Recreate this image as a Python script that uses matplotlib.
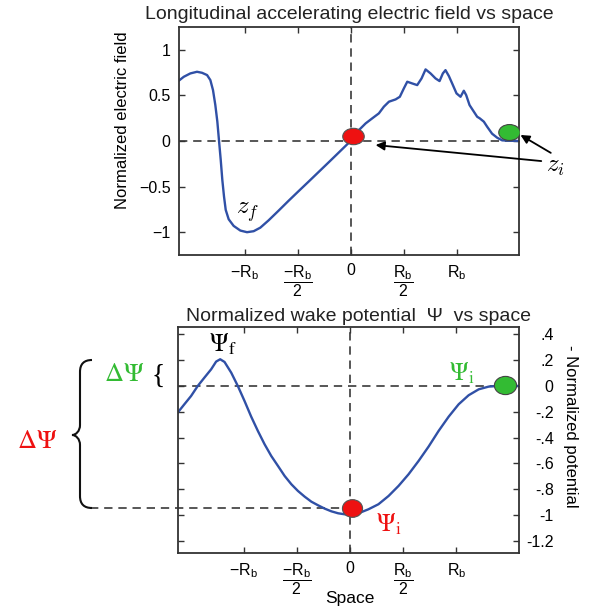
import matplotlib
matplotlib.use('Agg')
import matplotlib.pyplot as plt
from matplotlib.path import Path
from matplotlib.patches import PathPatch
import numpy as np

plt.rcParams['font.family'] = ['Liberation Sans', 'DejaVu Sans']
plt.rcParams['mathtext.fontset'] = 'custom'
plt.rcParams['mathtext.rm'] = 'Liberation Sans'
plt.rcParams['mathtext.it'] = 'Liberation Sans:italic'

# longitudinal electric field (x in units of R_b)
field_x = [-1.623, -1.575, -1.513, -1.45, -1.403, -1.355, -1.324, -1.299, -1.277,
           -1.258, -1.242, -1.226, -1.211, -1.195, -1.179, -1.151, -1.104, -1.041,
           -0.978, -0.915, -0.852, -0.774, -0.679, -0.585, -0.491, -0.396, -0.302,
           -0.208, -0.113, 0.0, 0.079, 0.142, 0.204, 0.267, 0.314, 0.362, 0.425,
           0.465, 0.503, 0.535, 0.582, 0.629, 0.67, 0.708, 0.755, 0.802, 0.84,
           0.871, 0.896, 0.928, 0.959, 1.0, 1.038, 1.069, 1.091, 1.123, 1.164,
           1.195, 1.22, 1.258, 1.289, 1.336, 1.384, 1.431, 1.588]
field_y = [0.66, 0.704, 0.741, 0.759, 0.748, 0.723, 0.668, 0.558, 0.394,
           0.212, 0.0, -0.208, -0.427, -0.609, -0.755, -0.858, -0.931, -0.982,
           -1.0, -0.989, -0.95, -0.87, -0.763, -0.655, -0.55, -0.445, -0.34,
           -0.235, -0.128, 0.0, 0.12, 0.193, 0.248, 0.303, 0.376, 0.431, 0.456,
           0.485, 0.577, 0.65, 0.631, 0.613, 0.686, 0.785, 0.741, 0.686, 0.657,
           0.741, 0.777, 0.712, 0.631, 0.522, 0.485, 0.551, 0.504, 0.394, 0.321,
           0.266, 0.248, 0.212, 0.157, 0.08, 0.036, 0.007, 0.0]

# normalized wake potential
psi_x = [-1.623, -1.56, -1.497, -1.434, -1.371, -1.308, -1.261, -1.223, -1.182,
         -1.119, -1.057, -0.994, -0.931, -0.868, -0.805, -0.742, -0.679, -0.616,
         -0.553, -0.491, -0.428, -0.365, -0.302, -0.239, -0.176, -0.113, -0.05,
         0.0, 0.079, 0.173, 0.267, 0.362, 0.456, 0.55, 0.645, 0.739, 0.833,
         0.928, 1.022, 1.116, 1.211, 1.305, 1.40, 1.588]
psi_y = [-0.207, -0.142, -0.078, 0.0, 0.065, 0.129, 0.189, 0.207, 0.186,
         0.103, 0.0, -0.116, -0.238, -0.349, -0.452, -0.543, -0.62, -0.698,
         -0.762, -0.814, -0.858, -0.897, -0.925, -0.951, -0.972, -0.987, -0.995,
         -1.0, -0.987, -0.956, -0.917, -0.853, -0.775, -0.685, -0.581, -0.47, -0.349,
         -0.238, -0.142, -0.072, -0.026, -0.005, 0.0, 0.0]

# marked points: (x, y)
field_red = (0.02, 0.055)
field_green = (1.494, 0.10)
psi_red = (0.02, -0.945)
psi_green = (1.462, 0.005)

xticks = [-1, -0.5, 0, 0.5, 1]
xticklabels = [r'$\mathrm{-R_b}$', r'$\dfrac{\mathrm{-R_b}}{2}$', '0',
               r'$\dfrac{\mathrm{R_b}}{2}$', r'$\mathrm{R_b}$']
field_yticks = [-1, -0.5, 0, 0.5, 1]
field_yticklabels = ['\u22121', '\u22120.5', '0', '0.5', '1']
psi_yticks = [0.4, 0.2, 0, -0.2, -0.4, -0.6, -0.8, -1, -1.2]
psi_yticklabels = ['.4', '.2', '0', '-.2', '-.4', '-.6', '-.8', '-1', '-1.2']

blue = '#3050a6'
dash_col = '#3a3a3a'
dash = (0, (5, 3.5))


def ellipse_marker(ratio):
    c = Path.unit_circle()
    return Path(c.vertices * np.array([1.0, ratio]), c.codes)


def style_axes(ax):
    for s in ax.spines.values():
        s.set_color('#333333')
        s.set_linewidth(1.3)
    ax.tick_params(direction='in', length=4, width=1, color='#333333',
                   top=True, right=True, labelsize=11.5, pad=6)
    ax.set_xticks(xticks)
    ax.set_xticklabels(xticklabels)


fig = plt.figure(figsize=(5.99, 6.08), dpi=100)

# ---- top: electric field
ax1 = fig.add_axes([179 / 599, 1 - 255 / 608, 340 / 599, 228 / 608])
style_axes(ax1)
ax1.set_xlim(-1.62, 1.59)
ax1.set_ylim(-1.25, 1.25)
ax1.axhline(0, color=dash_col, lw=1.2, ls=dash, zorder=1)
ax1.axvline(0, color=dash_col, lw=1.2, ls=dash, zorder=1)
ax1.plot(field_x, field_y, color=blue, lw=1.7, zorder=2)
ax1.plot(*field_red, marker=ellipse_marker(0.76), ms=15.5, color='#ee1111',
         mec='#555555', mew=0.8, zorder=4)
ax1.plot(*field_green, marker=ellipse_marker(0.74), ms=15.5, color='#33bb33',
         mec='#444444', mew=0.8, zorder=4)
ax1.set_yticks(field_yticks)
ax1.set_yticklabels(field_yticklabels)
ax1.set_title('Longitudinal accelerating electric field vs space', fontsize=14,
              color='#222222', pad=6)
ax1.set_ylabel('Normalized electric field', fontsize=12)
ax1.yaxis.set_label_coords(-0.144, 0.59)
ax1.text(-0.97, -0.78, r'$z_f$', math_fontfamily='cm', fontsize=18, ha='center', va='center')
ax1.text(1.93, -0.27, r'$z_i$', math_fontfamily='cm', fontsize=18, ha='center',
         va='center', clip_on=False)
arrow = dict(arrowstyle='-|>', color='black', lw=1.3, mutation_scale=13, shrinkA=0, shrinkB=0)
ax1.annotate('', xy=(0.236, -0.044), xytext=(1.80, -0.22), arrowprops=arrow,
             annotation_clip=False)
ax1.annotate('', xy=(1.604, 0.066), xytext=(1.89, -0.13), arrowprops=arrow,
             annotation_clip=False)

# ---- bottom: wake potential
ax2 = fig.add_axes([178 / 599, 1 - 553 / 608, 341 / 599, 226 / 608])
style_axes(ax2)
ax2.set_xlim(-1.62, 1.59)
ax2.set_ylim(-1.295, 0.457)
ax2.axhline(0, color=dash_col, lw=1.2, ls=dash, zorder=1)
ax2.axvline(0, color=dash_col, lw=1.2, ls=dash, zorder=1)
ax2.plot([-2.45, psi_red[0]], [psi_red[1], psi_red[1]], color=dash_col, lw=1.2,
         ls=dash, clip_on=False, zorder=1)
ax2.plot(psi_x, psi_y, color=blue, lw=1.7, zorder=2)
ax2.plot(*psi_red, marker=ellipse_marker(0.88), ms=14.5, color='#ee1111',
         mec='#555555', mew=0.8, zorder=4)
ax2.plot(*psi_green, marker=ellipse_marker(0.82), ms=16, color='#33bb33',
         mec='#444444', mew=0.8, zorder=4, clip_on=False)
ax2.yaxis.tick_right()
ax2.tick_params(axis='y', left=True, right=True, labelleft=False, labelright=True,
                pad=25)
ax2.set_yticks(psi_yticks)
ax2.set_yticklabels(psi_yticklabels)
for t in ax2.yaxis.get_major_ticks():
    t.label2.set_horizontalalignment('right')
ax2.set_title('Normalized wake potential  \u03a8  vs space', fontsize=14,
              color='#222222', pad=4, x=0.53)
ax2.set_xlabel('Space', fontsize=12.5)
ax2.xaxis.set_label_coords(0.504, -0.168)
ax2.set_ylabel('- Normalized potential', fontsize=12, rotation=270, va='center')
ax2.yaxis.set_label_position('right')
ax2.yaxis.set_label_coords(1.172, 0.56)

ax2.text(-1.2, 0.32, r'$\Psi_\mathrm{f}$', math_fontfamily='stix', fontsize=18,
         ha='center', va='center')
ax2.text(1.05, 0.1, r'$\Psi_\mathrm{i}$', math_fontfamily='stix', fontsize=18,
         color='#33bb33', ha='center', va='center')
ax2.text(0.36, -1.07, r'$\Psi_\mathrm{i}$', math_fontfamily='stix', fontsize=18,
         color='#ee1111', ha='center', va='center')

# ---- braces and delta labels, placed in figure pixels
ov = fig.add_axes([0, 0, 1, 1], zorder=5)
ov.set_xlim(0, 599)
ov.set_ylim(608, 0)
ov.axis('off')
verts = [(92, 508), (84, 508), (80, 504), (80, 496),
         (80, 445),
         (80, 439), (76, 435), (72, 435),
         (76, 435), (80, 431), (80, 425),
         (80, 372),
         (80, 364), (84, 360), (92, 360)]
codes = [Path.MOVETO, Path.CURVE4, Path.CURVE4, Path.CURVE4,
         Path.LINETO,
         Path.CURVE4, Path.CURVE4, Path.CURVE4,
         Path.CURVE4, Path.CURVE4, Path.CURVE4,
         Path.LINETO,
         Path.CURVE4, Path.CURVE4, Path.CURVE4]
ov.add_patch(PathPatch(Path(verts, codes), fill=False, lw=1.5, color='#111111'))
ov.text(37, 441, r'$\Delta\Psi$', math_fontfamily='stix', fontsize=19,
        color='#ee1111', ha='center', va='center')
ov.text(124, 374, r'$\Delta\Psi$', math_fontfamily='stix', fontsize=19,
        color='#33bb33', ha='center', va='center')
ov.text(158, 376, '{', family='Liberation Serif', fontsize=20, ha='center', va='center')

plt.savefig('out.png', dpi=100)
